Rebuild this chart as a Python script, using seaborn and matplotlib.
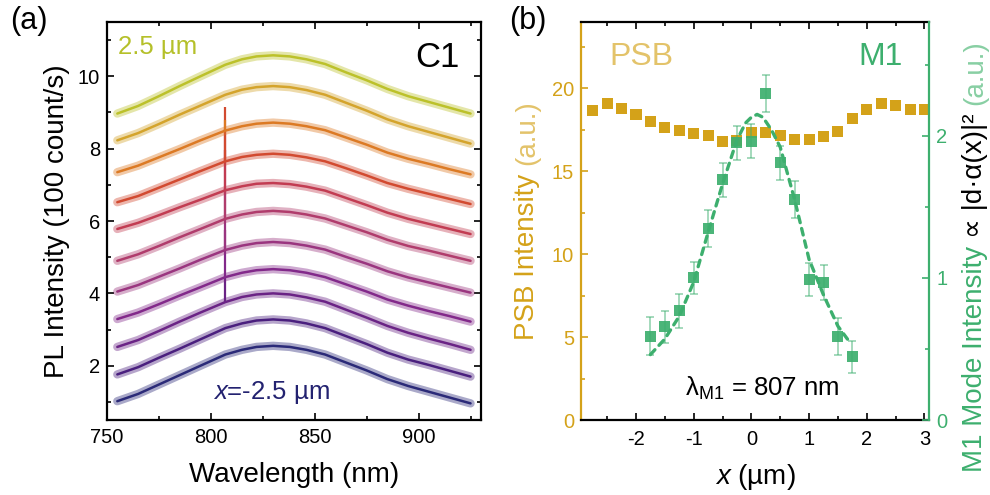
import matplotlib
matplotlib.use('Agg')
import matplotlib.pyplot as plt
import seaborn as sns
from matplotlib.ticker import MultipleLocator

# (a) fitted PL spectra, offset per position (100 count/s)
wavelength = [755, 765, 775, 785, 795, 807, 815, 822, 830, 838, 846, 855, 865,
              875, 885, 895, 905, 915, 925]
spec_pos = [-2.5, -2.0, -1.5, -1.0, -0.5, 0.0, 0.5, 1.0, 1.5, 2.0, 2.5]
pl_fit = [
    [1.02, 1.22, 1.48, 1.74, 2.00, 2.31, 2.44, 2.52, 2.55, 2.52, 2.44, 2.31, 2.09,
     1.87, 1.63, 1.44, 1.28, 1.12, 0.96],
    [1.76, 1.96, 2.22, 2.47, 2.73, 3.04, 3.17, 3.25, 3.28, 3.25, 3.17, 3.04, 2.82,
     2.60, 2.36, 2.17, 2.02, 1.86, 1.70],
    [2.52, 2.71, 2.96, 3.22, 3.47, 3.76, 3.90, 3.97, 4.00, 3.97, 3.89, 3.77, 3.55,
     3.33, 3.10, 2.91, 2.75, 2.60, 2.44],
    [3.29, 3.47, 3.70, 3.94, 4.17, 4.45, 4.57, 4.64, 4.67, 4.64, 4.57, 4.45, 4.25,
     4.05, 3.83, 3.66, 3.51, 3.37, 3.22],
    [4.05, 4.23, 4.46, 4.69, 4.93, 5.20, 5.32, 5.39, 5.42, 5.39, 5.32, 5.21, 5.01,
     4.82, 4.61, 4.44, 4.30, 4.16, 4.02],
    [4.90, 5.08, 5.31, 5.55, 5.78, 6.06, 6.18, 6.25, 6.28, 6.25, 6.18, 6.07, 5.88,
     5.69, 5.48, 5.31, 5.18, 5.04, 4.90],
    [5.78, 5.95, 6.16, 6.38, 6.59, 6.85, 6.96, 7.03, 7.05, 7.02, 6.95, 6.84, 6.64,
     6.44, 6.23, 6.06, 5.92, 5.78, 5.64],
    [6.52, 6.69, 6.92, 7.15, 7.38, 7.65, 7.77, 7.83, 7.86, 7.83, 7.76, 7.65, 7.46,
     7.26, 7.05, 6.89, 6.75, 6.61, 6.47],
    [7.35, 7.53, 7.76, 7.99, 8.23, 8.50, 8.62, 8.69, 8.72, 8.69, 8.62, 8.51, 8.31,
     8.11, 7.89, 7.72, 7.58, 7.43, 7.29],
    [8.23, 8.43, 8.68, 8.94, 9.19, 9.49, 9.63, 9.70, 9.73, 9.70, 9.62, 9.49, 9.27,
     9.05, 8.81, 8.62, 8.46, 8.30, 8.14],
    [8.97, 9.18, 9.45, 9.73, 10.00, 10.32, 10.47, 10.55, 10.58, 10.55, 10.47, 10.34, 10.11,
     9.89, 9.65, 9.45, 9.29, 9.13, 8.97],
]
m1_line = 807
m1_spike = [0, 0, 0.7, 1.3, 1.7, 1.9, 1.7, 1.5, 0.3, 0, 0]
spec_colors = ['#2b2a78', '#4a1f7e', '#6a2385', '#82298a', '#9a357f', '#b03c6c',
               '#c23c52', '#d24a30', '#dc7a24', '#d4a42c', '#bcc12a']

# (b) PSB intensity and M1 mode intensity vs position
psb_x = [-2.75, -2.5, -2.25, -2.0, -1.75, -1.5, -1.25, -1.0, -0.75, -0.5, -0.25, 0.0,
         0.25, 0.5, 0.75, 1.0, 1.25, 1.5, 1.75, 2.0, 2.25, 2.5, 2.75, 3.0]
psb_y = [18.66, 19.08, 18.78, 18.42, 18.0, 17.63, 17.45, 17.27, 17.15, 16.79, 16.85, 17.33,
         17.33, 17.15, 16.9, 16.9, 17.09, 17.39, 18.17, 18.72, 19.08, 18.96, 18.72, 18.72]
m1_x = [-1.75, -1.5, -1.25, -1.0, -0.75, -0.5, -0.25, 0.0, 0.25, 0.5, 0.75, 1.0, 1.25, 1.5, 1.75]
m1_y = [0.59, 0.655, 0.77, 1.0, 1.35, 1.69, 1.95, 1.96, 2.3, 1.81, 1.55, 0.99, 0.966, 0.59, 0.444]
m1_err = [0.135, 0.115, 0.12, 0.11, 0.13, 0.12, 0.12, 0.12, 0.13, 0.12, 0.13, 0.115, 0.125, 0.13, 0.11]
fit_x = [-1.75, -1.5, -1.25, -1.0, -0.75, -0.5, -0.25, -0.1, 0.0, 0.1, 0.2, 0.35, 0.5,
         0.75, 1.0, 1.25, 1.5, 1.7]
fit_y = [0.46, 0.57, 0.73, 0.97, 1.32, 1.66, 1.97, 2.09, 2.13, 2.15, 2.13, 2.04, 1.92,
         1.55, 1.13, 0.88, 0.66, 0.55]

GOLD = '#d4a219'
GOLD_LIGHT = '#e3c36a'
GREEN = '#3daf6e'
GREEN_LIGHT = '#88cfa3'

sns.set_style('ticks')
plt.rcParams['font.family'] = ['Liberation Sans', 'DejaVu Sans']
plt.rcParams['mathtext.fontset'] = 'custom'
plt.rcParams['mathtext.rm'] = 'Liberation Sans'
plt.rcParams['mathtext.it'] = 'Liberation Sans:italic'
plt.rcParams['axes.unicode_minus'] = False
for key in ['text.color', 'axes.labelcolor', 'xtick.color', 'ytick.color', 'axes.edgecolor']:
    plt.rcParams[key] = 'black'


def style_ticks(ax, axis='both', **kw):
    ax.tick_params(axis=axis, which='both', direction='in', width=1.2, labelsize=14.5, **kw)
    ax.tick_params(axis=axis, which='major', length=5)
    ax.tick_params(axis=axis, which='minor', length=3)


def stacked_label(fig, x_px, y_px, pieces, size, gap=0.3):
    """Vertical label built from coloured pieces, stacked from the bottom up."""
    fig.canvas.draw()
    renderer = fig.canvas.get_renderer()
    W, H = fig.bbox.width, fig.bbox.height
    y = H - y_px
    for text, color in pieces:
        t = fig.text(x_px / W, y / H, text, rotation=90, ha='center', va='bottom',
                     color=color, fontsize=size)
        y += t.get_window_extent(renderer).height + gap * size * fig.dpi / 72


fig = plt.figure(figsize=(9.9, 4.95), dpi=100)
ax_a = fig.add_axes([0.108, 0.1515, 0.3778, 0.804])
ax_b = fig.add_axes([0.587, 0.1515, 0.3515, 0.804])

# ---- panel (a)
i807 = wavelength.index(m1_line)
for vals, h, col in zip(pl_fit, m1_spike, spec_colors):
    sns.lineplot(x=wavelength, y=vals, color=col, lw=6, alpha=0.4, ax=ax_a)
    if h > 0:
        ax_a.vlines(m1_line, vals[i807], vals[i807] + h, color=col, lw=1.6)
    sns.lineplot(x=wavelength, y=vals, color=col, lw=1.8, ax=ax_a)

ax_a.set_xlim(750, 930)
ax_a.set_ylim(0.5, 11.5)
ax_a.xaxis.set_major_locator(MultipleLocator(50))
ax_a.xaxis.set_minor_locator(MultipleLocator(25))
ax_a.yaxis.set_major_locator(MultipleLocator(2))
ax_a.yaxis.set_minor_locator(MultipleLocator(1))
style_ticks(ax_a, top=True, right=True)
ax_a.tick_params(axis='x', pad=6)
ax_a.tick_params(axis='y', pad=5)
for sp in ax_a.spines.values():
    sp.set_linewidth(1.6)
    sp.set_color('black')
ax_a.set_xlabel('Wavelength (nm)', fontsize=20, va='center')
ax_a.xaxis.set_label_coords(0.5, -0.138)
ax_a.set_ylabel('PL Intensity (100 count/s)', fontsize=20, va='center')
ax_a.yaxis.set_label_coords(-0.134, 0.5)

ax_a.text(0.03, 0.937, '2.5 µm', transform=ax_a.transAxes, color='#b5c02a',
          fontsize=18.5, va='center', ha='left')
ax_a.text(0.944, 0.91, 'C1', transform=ax_a.transAxes, color='black',
          fontsize=25, va='center', ha='right')
ax_a.text(0.283, 0.068, '$x$=-2.5 µm', transform=ax_a.transAxes, color='#232270',
          fontsize=18.5, va='center', ha='left')

# ---- panel (b)
sns.scatterplot(x=psb_x, y=psb_y, marker='s', s=64, color=GOLD, edgecolor='none',
                ax=ax_b, zorder=3)
ax_b.set_xlim(-2.95, 3.08)
ax_b.set_ylim(0, 24)
ax_b.xaxis.set_major_locator(MultipleLocator(1))
ax_b.xaxis.set_minor_locator(MultipleLocator(0.5))
ax_b.yaxis.set_major_locator(MultipleLocator(5))
ax_b.yaxis.set_minor_locator(MultipleLocator(2.5))
ax_b.set_xticks([-2, -1, 0, 1, 2, 3])

ax_r = ax_b.twinx()
ax_r.errorbar(m1_x, m1_y, yerr=m1_err, fmt='none', ecolor=GREEN, alpha=0.5,
              elinewidth=1.3, capsize=3, capthick=1.3, zorder=2)
sns.scatterplot(x=m1_x, y=m1_y, marker='s', s=64, color=GREEN, edgecolor='none',
                alpha=0.92, ax=ax_r, zorder=3)
sns.lineplot(x=fit_x, y=fit_y, color=GREEN, lw=2.4, ax=ax_r, zorder=4,
             linestyle=(0, (2, 1.8)), dash_capstyle='round')
ax_r.set_ylim(0, 2.8)
ax_r.yaxis.set_major_locator(MultipleLocator(1))
ax_r.yaxis.set_minor_locator(MultipleLocator(0.5))

style_ticks(ax_b, axis='x', top=True, pad=7)
style_ticks(ax_b, axis='y', left=True, right=False, colors=GOLD, pad=5)
style_ticks(ax_r, axis='y', right=True, left=False, colors=GREEN, pad=5)
for sp in list(ax_b.spines.values()) + list(ax_r.spines.values()):
    sp.set_linewidth(1.6)
ax_b.spines['top'].set_color('black')
ax_b.spines['bottom'].set_color('black')
ax_b.spines['left'].set_color(GOLD)
ax_b.spines['right'].set_visible(False)
ax_r.spines['left'].set_visible(False)
ax_r.spines['top'].set_visible(False)
ax_r.spines['bottom'].set_visible(False)
ax_r.spines['right'].set_color(GREEN)

ax_b.set_xlabel('$x$ (µm)', fontsize=20, va='center')
ax_b.xaxis.set_label_coords(0.5, -0.143)
ax_b.set_ylabel('')
ax_r.set_ylabel('')

ax_b.text(0.08, 0.912, 'PSB', transform=ax_b.transAxes, color=GOLD_LIGHT,
          fontsize=23, va='center', ha='left')
ax_b.text(0.925, 0.912, 'M1', transform=ax_b.transAxes, color=GREEN,
          fontsize=23, va='center', ha='right')
ax_b.text(0.52, 0.08, r'λ$_\mathregular{M1}$ = 807 nm', transform=ax_b.transAxes,
          color='black', fontsize=18.5, va='center', ha='center')

fig.text(29 / 990, 1 - 21 / 495, '(a)', fontsize=22, ha='center', va='center')
fig.text(528 / 990, 1 - 21 / 495, '(b)', fontsize=22, ha='center', va='center')

stacked_label(fig, 527, 340, [('PSB Intensity', GOLD), ('(a.u.)', GOLD_LIGHT)], 20)
stacked_label(fig, 975, 472, [('M1 Mode Intensity', GREEN),
                              ('∝ |d·α(x)|²', 'black'),
                              ('(a.u.)', GREEN_LIGHT)], 20)

fig.savefig('out.png', dpi=100)
